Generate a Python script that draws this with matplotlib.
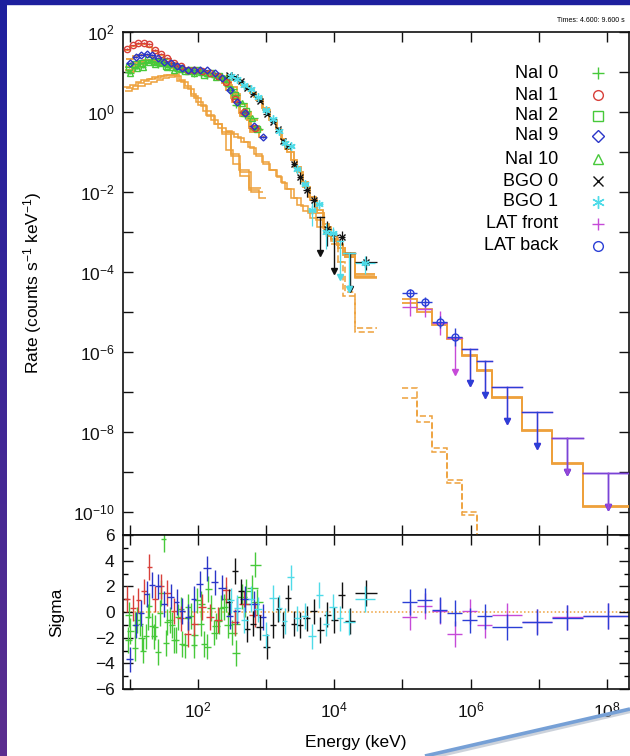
import numpy as np
import matplotlib
matplotlib.use("Agg")
import matplotlib.pyplot as plt
from matplotlib.ticker import FixedLocator, FuncFormatter, NullLocator, MultipleLocator
from matplotlib.lines import Line2D
from matplotlib.patches import Rectangle
from matplotlib.colors import LinearSegmentedColormap

plt.rcParams['font.family'] = ['Liberation Sans', 'DejaVu Sans']
plt.rcParams['mathtext.fontset'] = 'custom'
plt.rcParams['mathtext.rm'] = 'Liberation Sans'
plt.rcParams['mathtext.it'] = 'Liberation Sans:italic'
plt.rcParams['mathtext.bf'] = 'Liberation Sans:bold'

# ---------------- GBM NaI detectors (keV bin edges, log10 model rate, delchi) ----------------
nai0_edges = [8.5, 10.7, 13.2, 15.8, 19.1, 23.4, 28.8, 34.7, 42.7, 52.5, 64.6, 79.4, 97.7,
              123, 155, 195, 245, 316, 417, 575, 851]
nai0_model_log = [1.05, 1.17, 1.25, 1.29, 1.29, 1.26, 1.22, 1.17, 1.13, 1.09, 1.05, 1.02, 0.99,
                  0.96, 0.92, 0.86, 0.68, 0.25, -0.10, -0.50]
nai0_sigma = [-2.2, -2.8, -0.9, -1.9, -1.1, -3.1, 5.7, -0.6, -2.2, -2.5, 0.4, -2.6, -0.9,
              -2.7, -1.6, 0.3, -1.0, -3.2, 0.6, 3.7]

nai1_edges = [8.3, 10.0, 12.3, 14.8, 17.8, 21.4, 26.3, 32.4, 39.8, 50.1, 63.1, 79.4, 100,
              132, 174, 229, 302, 398, 562, 832]
nai1_model_log = [1.56, 1.66, 1.71, 1.69, 1.63, 1.53, 1.42, 1.32, 1.23, 1.16, 1.10, 1.06, 1.02,
                  0.98, 0.92, 0.72, 0.35, -0.02, -0.40]
nai1_pl_log = [0.62, 0.68, 0.74, 0.79, 0.83, 0.87, 0.91, 0.93, 0.92, 0.78, 0.60, 0.40, 0.18,
               -0.08, -0.30, -0.55, -1.05, -1.45, -1.90]
nai1_sigma = [1.0, 0.3, 0.9, 1.6, 3.5, 1.0, 2.0, 1.5, 0.1, -0.5, -1.7, -0.9, 0.4,
              -0.4, -0.6, 1.7, -0.8, 0.6, -0.2]

nai2_edges = [8.7, 11.0, 13.5, 16.6, 20.4, 25.1, 30.9, 38.0, 46.8, 57.5, 70.8, 87.1, 110,
              138, 178, 229, 302, 417, 603, 891]
nai2_model_log = [1.12, 1.22, 1.28, 1.31, 1.29, 1.25, 1.20, 1.16, 1.12, 1.08, 1.05, 1.02, 0.99,
                  0.96, 0.91, 0.80, 0.45, 0.00, -0.45]
nai2_pl_log = [0.52, 0.58, 0.64, 0.70, 0.75, 0.80, 0.84, 0.88, 0.90, 0.76, 0.58, 0.36, 0.14,
               -0.10, -0.30, -0.50, -1.10, -1.50, -2.00]
nai2_sigma = [-0.2, -1.0, -2.0, -0.4, -1.9, -0.1, -2.4, -1.0, -0.4, -2.6, -0.3, 0.9, -2.5,
              0.3, -0.7, 1.0, -0.9, 1.6, 0.8]

nai9_edges = [9.0, 11.1, 13.5, 16.2, 19.5, 23.4, 28.8, 35.9, 44.7, 53.7, 64.6, 79.4, 95.5,
              120, 155, 200, 263, 331, 417, 562, 794, 1000]
nai9_model_log = [1.32, 1.40, 1.43, 1.42, 1.38, 1.31, 1.24, 1.19, 1.14, 1.10, 1.06, 1.03, 1.00,
                  0.97, 0.93, 0.80, 0.55, 0.25, -0.05, -0.35, -0.62]
nai9_pl_log = [0.60, 0.66, 0.72, 0.77, 0.82, 0.86, 0.90, 0.93, 0.94, 0.80, 0.66, 0.45, 0.25,
               0.02, -0.20, -0.40, -0.95, -1.30, -1.60, -1.95, -2.15]
nai9_sigma = [-3.7, -1.0, -0.1, 1.4, 2.1, 2.0, 0.6, 1.2, 0.8, 0.1, -0.4, 1.0, 2.2,
              3.4, 2.3, 1.9, -0.3, 0.1, 1.0, 0.6, -0.4]

nai10_edges = [9.1, 11.5, 14.1, 17.4, 21.4, 26.3, 32.4, 39.8, 50.1, 63.1, 79.4, 100,
               126, 162, 209, 275, 372, 525, 759]
nai10_model_log = [1.00, 1.12, 1.20, 1.23, 1.22, 1.19, 1.15, 1.11, 1.07, 1.04, 1.01, 0.98,
                   0.95, 0.91, 0.84, 0.62, 0.20, -0.20]
nai10_sigma = [-1.5, -0.6, -3.0, 0.5, -1.2, 1.5, -0.8, -2.2, 0.2, -0.5, -1.8, 0.6,
               1.8, -1.1, 0.4, -1.6, 1.2, 1.9]

nai_relerr = 0.05

# ---------------- GBM BGO detectors ----------------
bgo0_edges = [257, 316, 385, 473, 582, 724, 912, 1135, 1380, 1641, 1928, 2344, 2851, 3508,
              4467, 5623, 6998, 8913, 11350, 14620, 19950, 41690]
bgo0_model_log = [0.92, 0.84, 0.75, 0.62, 0.48, 0.30, 0.05, -0.20, -0.43, -0.67, -0.92, -1.20,
                  -1.50, -1.87, -2.20, -2.53, -2.87, -3.17, -3.40, -3.62, -4.12]
bgo0_pl_log = [-0.47, -0.56, -0.65, -0.76, -0.91, -1.09, -1.29, -1.45, -1.60, -1.75, -1.93,
               -2.15, -2.32, -2.48, -2.66, -2.87, -3.05, -3.22, -3.40, -3.62, -4.14]
bgo0_band_log = [-3.30, -3.75, -4.50, -5.40]          # last four bins
bgo0_sigma = [0.8, 3.2, 1.6, -1.3, -0.9, -1.2, -2.7, -1.0, 0.2, -1.0, 1.1, -0.9, -1.0, -0.5,
              0.05, -1.4, -0.2, -0.6, 1.3, -0.7, 1.5]
bgo0_relerr = [0.03, 0.03, 0.035, 0.04, 0.05, 0.06, 0.07, 0.09, 0.11, 0.13, 0.16, 0.20, 0.25,
               0.30, 0.36, 0.45, 0.55, 0.62, 0.70, 0.80, 0.90]

bgo1_edges = [269, 339, 427, 537, 676, 861, 1122, 1429, 1738, 2065, 2541, 3236, 4169, 5433,
              6761, 8511, 10840, 13490, 19950, 39810]
bgo1_model_log = [0.90, 0.81, 0.68, 0.55, 0.37, 0.10, -0.20, -0.49, -0.74, -1.00, -1.37, -1.76,
                  -2.12, -2.46, -2.80, -3.10, -3.33, -3.58, -4.05]
bgo1_pl_log = [-0.50, -0.62, -0.74, -0.88, -1.05, -1.25, -1.45, -1.62, -1.77, -1.92, -2.15,
               -2.36, -2.52, -2.70, -2.90, -3.10, -3.30, -3.52, -4.10]
bgo1_band_log = [-3.75, -4.60, -5.50]                  # last three bins
bgo1_sigma = [0.9, 0.3, -0.6, 1.0, 0.2, -1.8, 1.1, 0.3, -0.7, 2.7, -0.5, -0.3, -1.9, 1.3,
              -0.9, 0.4, -0.5, -0.8, 1.0]
bgo1_relerr = [0.03, 0.03, 0.04, 0.05, 0.06, 0.07, 0.08, 0.10, 0.12, 0.15, 0.18, 0.22, 0.28,
               0.33, 0.40, 0.50, 0.60, 0.70, 0.90]

# ---------------- LAT ----------------
lat_edges = [1.0e5, 1.66e5, 2.75e5, 4.57e5, 7.59e5, 1.26e6, 2.09e6, 5.75e6, 1.58e7, 4.37e7, 2.5e8]
latb_model_log = [-4.66, -4.93, -5.28, -5.65, -6.08, -6.45, -7.13, -7.95, -8.78, -9.85]
latf_model_log = [-4.76, -5.00, -5.32, -5.68, -6.10, -6.47, -7.15, -7.97, -8.80, -9.87]
latb_band_log = [-6.90, -7.60, -8.40, -9.20, -10.00, -11.5, -13.0]
latf_band_log = [-7.15, -7.75, -8.50, -9.28, -10.08, -11.5, -13.0]
latb_rate_log = [-4.53, -4.75, -5.25, -5.62]           # detections, bins 1-4
latb_err_dex = [0.11, 0.12, 0.15, 0.23]
latb_ul_log = [-5.93, -6.22, -6.88, -7.50, -8.15, -9.03]  # upper limits, bins 5-10
latf_rate_log = [-4.88, -4.93, -5.28]                  # detections, bins 1-3
latf_err_dex = [0.22, 0.20, 0.30]
latf_ul_log = [-5.65, -5.93, -6.22, -6.88, -7.50, -8.15, -9.03]  # upper limits, bins 4-10
latb_sigma = [0.8, 0.9, 0.13, -0.08, -0.65, -0.35, -1.17, -0.78, -0.44, -0.3]
latf_sigma = [-0.4, 0.45, 0.1, -1.7, 0.05, -1.05, -0.26, -0.75, -0.42, -0.3]

# ---------------- styling ----------------
C_GREEN = '#47c93a'
C_RED = '#d8403a'
C_BLUE = '#2a35c8'
C_BLACK = '#111111'
C_CYAN = '#4fdbe8'
C_MAGENTA = '#c64ad8'
C_LATBLUE = '#2b3fd6'
C_MODEL = '#eea03a'
ASTERISK = (6, 2, 0)

W, H = 630, 756
fig = plt.figure(figsize=(W / 100, H / 100), dpi=100)
fig.patch.set_facecolor('white')


def fx(px):
    return px / W


def fy(py):
    return 1 - py / H


ax = fig.add_axes([fx(123), fy(535), fx(629) - fx(123), fy(32) - fy(535)])
ax2 = fig.add_axes([fx(123), fy(689), fx(629) - fx(123), fy(535) - fy(689)], sharex=ax)


def centres(edges):
    e = np.asarray(edges, float)
    return np.sqrt(e[:-1] * e[1:])


def xerrs(edges):
    e = np.asarray(edges, float)
    c = centres(e)
    return np.array([c - e[:-1], e[1:] - c])


def steps(axis, edges, log_vals, ls='-', lw=1.2):
    axis.stairs(10.0 ** np.asarray(log_vals), np.asarray(edges, float), baseline=None,
                color=C_MODEL, lw=lw, ls=ls, zorder=3)


def upper_limits(axis, edges, ul, color, drop=0.85, alpha=1.0):
    c = centres(edges)
    e = np.asarray(edges, float)
    for xi, a, b, u in zip(c, e[:-1], e[1:], ul):
        bottom = u / 10 ** drop
        axis.plot([a, b], [u, u], color=color, lw=1.0, zorder=4, alpha=alpha)
        axis.plot([xi, xi], [u, bottom], color=color, lw=1.0, zorder=4, alpha=alpha)
        axis.plot([xi], [bottom], marker='v', ms=4.5, color=color, mec=color, zorder=4,
                  alpha=alpha)


def spectrum(edges, model_log, sigma, relerr, color, marker, ms, filled=False):
    c = centres(edges)
    m = 10.0 ** np.asarray(model_log)
    err = m * np.asarray(relerr)
    rate = m + np.asarray(sigma) * err
    det = (rate - err) > 0.2 * rate
    xe = xerrs(edges)
    ax.errorbar(c[det], rate[det], xerr=xe[:, det], yerr=err[det], fmt='none',
                ecolor=color, elinewidth=0.9, zorder=4)
    ax.plot(c[det], rate[det], ls='none', marker=marker, ms=ms,
            mfc=color if filled else 'none', mec=color, mew=1.0, zorder=5)
    e = np.asarray(edges, float)
    for i in np.where(~det)[0]:
        upper_limits(ax, e[i:i + 2], [max(rate[i], 0) + err[i]], color, drop=0.9)


def residuals(edges, sigma, color):
    ax2.errorbar(centres(edges), sigma, xerr=xerrs(edges), yerr=1.0, fmt='none',
                 ecolor=color, elinewidth=1.0)


# ---------------- upper panel: count spectra ----------------
spectrum(nai0_edges, nai0_model_log, nai0_sigma, nai_relerr, C_GREEN, '+', 5)
spectrum(nai2_edges, nai2_model_log, nai2_sigma, nai_relerr, C_GREEN, 's', 4)
spectrum(nai10_edges, nai10_model_log, nai10_sigma, nai_relerr, C_GREEN, '^', 4)
spectrum(nai1_edges, nai1_model_log, nai1_sigma, nai_relerr, C_RED, 'o', 4.5)
spectrum(nai9_edges, nai9_model_log, nai9_sigma, nai_relerr, C_BLUE, 'D', 3.5)
spectrum(bgo0_edges, bgo0_model_log, bgo0_sigma, bgo0_relerr, C_BLACK, 'x', 4)
spectrum(bgo1_edges, bgo1_model_log, bgo1_sigma, bgo1_relerr, C_CYAN, ASTERISK, 6)

# LAT detections and upper limits
lat_c = centres(lat_edges)
lat_xe = xerrs(lat_edges)
lf = 10.0 ** np.asarray(latf_rate_log)
nf = len(lf)
ax.errorbar(lat_c[:nf], lf, xerr=lat_xe[:, :nf],
            yerr=[lf - lf / 10 ** np.asarray(latf_err_dex), lf * 10 ** np.asarray(latf_err_dex) - lf],
            fmt='none', ecolor=C_MAGENTA, elinewidth=1.0, zorder=4)
upper_limits(ax, lat_edges[nf:], 10.0 ** np.asarray(latf_ul_log), C_MAGENTA)
lb = 10.0 ** np.asarray(latb_rate_log)
nb = len(lb)
ax.errorbar(lat_c[:nb], lb, xerr=lat_xe[:, :nb],
            yerr=[lb - lb / 10 ** np.asarray(latb_err_dex), lb * 10 ** np.asarray(latb_err_dex) - lb],
            fmt='none', ecolor=C_LATBLUE, elinewidth=1.0, zorder=4)
ax.plot(lat_c[:nb], lb, ls='none', marker='o', ms=5, mfc='none', mec=C_LATBLUE, mew=1.0, zorder=5)
upper_limits(ax, lat_edges[nb:], 10.0 ** np.asarray(latb_ul_log), C_LATBLUE)
# front and back limits coincide in the two highest bins
upper_limits(ax, lat_edges[-3:], 10.0 ** np.asarray(latf_ul_log[-2:]), C_MAGENTA, alpha=0.5)

# folded models: totals (solid) and components
for e, v in [(nai0_edges, nai0_model_log), (nai1_edges, nai1_model_log),
             (nai2_edges, nai2_model_log), (nai9_edges, nai9_model_log),
             (nai10_edges, nai10_model_log), (bgo0_edges, bgo0_model_log),
             (bgo1_edges, bgo1_model_log), (lat_edges, latb_model_log),
             (lat_edges, latf_model_log)]:
    steps(ax, e, v, lw=1.3)
for e, v in [(nai1_edges, nai1_pl_log), (nai2_edges, nai2_pl_log), (nai9_edges, nai9_pl_log),
             (bgo0_edges, bgo0_pl_log), (bgo1_edges, bgo1_pl_log)]:
    steps(ax, e, v, lw=1.1)
steps(ax, bgo0_edges[-len(bgo0_band_log) - 1:], bgo0_band_log, ls=(0, (4, 2)), lw=1.1)
steps(ax, bgo1_edges[-len(bgo1_band_log) - 1:], bgo1_band_log, ls=(0, (4, 2)), lw=1.1)
steps(ax, lat_edges[:len(latb_band_log) + 1], latb_band_log, ls=(0, (4, 2)), lw=1.1)
steps(ax, lat_edges[:len(latf_band_log) + 1], latf_band_log, ls=(0, (4, 2)), lw=1.1)

# ---------------- lower panel: residuals ----------------
residuals(nai0_edges, nai0_sigma, C_GREEN)
residuals(nai2_edges, nai2_sigma, C_GREEN)
residuals(nai10_edges, nai10_sigma, C_GREEN)
residuals(nai1_edges, nai1_sigma, C_RED)
residuals(nai9_edges, nai9_sigma, C_BLUE)
residuals(bgo0_edges, bgo0_sigma, C_BLACK)
residuals(bgo1_edges, bgo1_sigma, C_CYAN)
residuals(lat_edges, latf_sigma, C_MAGENTA)
residuals(lat_edges, latb_sigma, C_LATBLUE)
ax2.axhline(0, color=C_MODEL, ls=(0, (1, 1.5)), lw=1.1, zorder=1)

# ---------------- axes ----------------
ax.set_xscale('log')
ax.set_yscale('log')
ax.set_xlim(8, 2.1e8)
ax.set_ylim(2.7e-11, 100)
ax2.set_ylim(-6, 6)


def pow_label(v, pos):
    k = int(round(np.log10(v)))
    return r'$10^{%d}$' % k if k % 2 == 0 else ''


ax.xaxis.set_major_locator(FixedLocator([10.0 ** k for k in range(1, 9)]))
ax.xaxis.set_minor_locator(NullLocator())
ax.xaxis.set_major_formatter(FuncFormatter(pow_label))
ax.yaxis.set_major_locator(FixedLocator([10.0 ** k for k in range(-10, 3)]))
ax.yaxis.set_minor_locator(NullLocator())
ax.yaxis.set_major_formatter(FuncFormatter(pow_label))
ax2.yaxis.set_major_locator(MultipleLocator(2))
ax2.yaxis.set_minor_locator(MultipleLocator(1))

for a in (ax, ax2):
    a.tick_params(which='major', direction='in', length=7, width=1.0, top=True, right=True,
                  labelsize=12.5, pad=6, colors='#111111')
    a.tick_params(which='minor', direction='in', length=3.5, width=1.0, top=True, right=True)
    for s in a.spines.values():
        s.set_linewidth(1.2)
        s.set_color('#111111')
ax.tick_params(axis='x', labelbottom=False)
ax2.tick_params(axis='x', pad=8)

fig.text(fx(33), fy(283), r'Rate (counts s$^{-1}$ keV$^{-1}$)', rotation=90,
         ha='center', va='center', fontsize=12.5)
fig.text(fx(57), fy(612), 'Sigma', rotation=90, ha='center', va='center', fontsize=12.5)
fig.text(fx(356), fy(743), 'Energy (keV)', ha='center', va='center', fontsize=12.5)
fig.text(fx(625), fy(20), 'Times: 4.600: 9.600 s', ha='right', va='center', fontsize=5)

# ---------------- legend ----------------
legend_rows = [('NaI 0', C_GREEN, '+', 9, 'none'),
               ('NaI 1', C_RED, 'o', 7, 'none'),
               ('NaI 2', C_GREEN, 's', 7.5, 'none'),
               ('NaI 9', C_BLUE, 'D', 6, 'none'),
               ('NaI 10', C_GREEN, '^', 7.5, 'none'),
               ('BGO 0', C_BLACK, 'x', 7, 'none'),
               ('BGO 1', C_CYAN, ASTERISK, 9, 'none'),
               ('LAT front', C_MAGENTA, '+', 9, 'none'),
               ('LAT back', C_LATBLUE, 'o', 7, 'none')]
legend_y = [73, 95, 116, 136, 159, 181, 202, 224, 246]
for (lab, col, mk, ms, mfc), yy in zip(legend_rows, legend_y):
    fig.text(fx(558), fy(yy), lab, ha='right', va='center', fontsize=13)
    fig.add_artist(Line2D([fx(598)], [fy(yy)], ls='none', marker=mk, ms=ms, mfc=mfc,
                          mec=col, mew=1.0, transform=fig.transFigure))

# ---------------- slide frame ----------------
fig.add_artist(Rectangle((0, fy(3.5)), 1, 3.5 / H, transform=fig.transFigure,
                         color='#1d1f9e', zorder=10))
band = fig.add_axes([0, 0, fx(7), 1])
grad = np.linspace(0, 1, 256).reshape(-1, 1)
band.imshow(grad, aspect='auto', origin='upper', extent=[0, 1, 0, 1],
            cmap=LinearSegmentedColormap.from_list('frame', ['#1d1f9e', '#5c2e8f']))
band.axis('off')
fig.add_artist(Line2D([fx(427), fx(630)], [fy(758), fy(711)], color='#9aa6b8', lw=3.2,
                      alpha=0.5, transform=fig.transFigure, solid_capstyle='butt'))
fig.add_artist(Line2D([fx(425), fx(630)], [fy(756), fy(709)], color='#76a0d6', lw=2.6,
                      transform=fig.transFigure, solid_capstyle='butt'))

fig.savefig('out.png', dpi=100, facecolor=fig.get_facecolor())
